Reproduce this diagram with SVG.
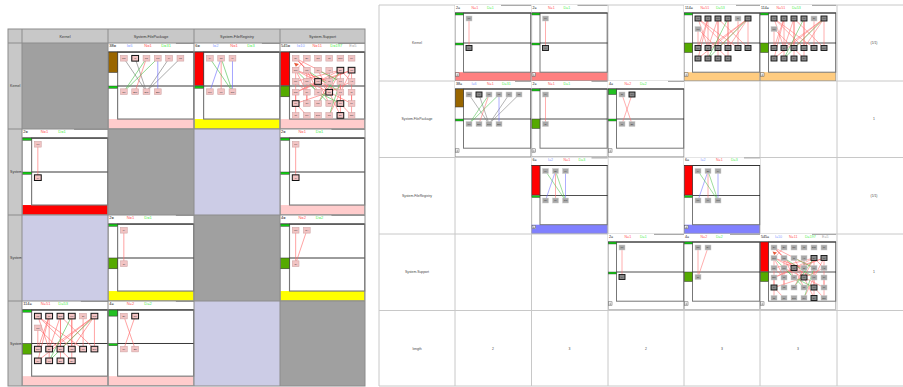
<svg xmlns="http://www.w3.org/2000/svg" width="903" height="387" viewBox="0 0 903 387">
<style>
text{font-family:"Liberation Sans",Arial,sans-serif}
.hd{font-size:3.8px;fill:#333;text-anchor:middle}
.rl{font-size:3.6px;fill:#333}
.rt{font-size:3.4px;fill:#444;text-anchor:middle}
.t{font-size:3.6px}
.k{fill:#111}.i{fill:#8aa0ff}.nn{fill:#ff5a5a}.d{fill:#50f050}.e{fill:#a8a8a8}
.nl{font-size:2.2px;fill:#333;text-anchor:middle}
.n{fill:var(--nf);stroke:var(--ns);stroke-width:0.5}
.h{fill:var(--hf);stroke:#111;stroke-width:0.9}
.er,.eg,.eb,.ex{fill:none;stroke-width:0.55}
.er{stroke:#ff6a6a}.eg{stroke:#4cc04c}.eb{stroke:#6a6aff}.ex{stroke:#777}
.L{--nf:#f2c4c4;--ns:#cda4a4;--hf:#f2c4c4;--io:0}
.R{--nf:#a8a8a8;--ns:#cfcfcf;--hf:#888;--io:1}
.ft{fill:var(--ff,#fff)}
.ic{opacity:var(--io,1)}
.gl{stroke:#c8c8c8;stroke-width:1;fill:none}
.lg{stroke:#8c8c8c;stroke-width:1;fill:none}
</style>
<defs>
<clipPath id="rc"><rect x="8" y="43" width="14" height="343"/></clipPath>
<g id="fr">
<rect x="0" y="0" width="76" height="76" fill="#fff"/>
<rect class="ft" x="0" y="67.2" width="76" height="8.8"/>
<rect x="0.3" y="8" width="75.4" height="67.7" fill="none" stroke="#999" stroke-width="0.6"/>
<rect x="8.5" y="8" width="67.2" height="59.2" fill="none" stroke="#777" stroke-width="1"/>
<line x1="0" y1="8" x2="76" y2="8" stroke="#222" stroke-width="0.8"/>
<line x1="8.5" y1="38" x2="76" y2="38" stroke="#222" stroke-width="0.8"/>
<g class="ic"><rect x="0.6" y="67.8" width="3.4" height="3.4" fill="#fff" stroke="#555" stroke-width="0.5"/><path d="M1.3 70.2h2M2.3 68.6v2.2" stroke="#555" stroke-width="0.4"/></g>
</g>
<rect id="gb" x="0.4" y="8" width="8" height="2" fill="#1c1" stroke="#333" stroke-width="0.4"/>
<rect id="gm" x="0.4" y="38" width="8" height="2" fill="#1c1" stroke="#333" stroke-width="0.4"/>
<rect id="gk" x="0.4" y="38" width="8" height="9.5" fill="#55aa00" stroke="#333" stroke-width="0.5"/>

<g id="c2a">
<use href="#fr"/>
<line x1="46" y1="0.4" x2="76" y2="0.4" stroke="#888" stroke-width="0.8"/>
<use href="#gb"/><use href="#gm"/>
<text class="t" y="3.9"><tspan x="1" class="k">2=</tspan><tspan x="16.5" class="nn">N=1</tspan><tspan x="32" class="d">D=1</tspan></text>
<g class="edges"><line class="er" x1="14" y1="13.5" x2="14" y2="43"/></g>
<rect class="n" x="11" y="11" width="6" height="5"/><text class="nl" x="14" y="14.3">Fu</text>
<rect class="h" x="11" y="40.5" width="6" height="5"/><text class="nl" x="14" y="43.8">Fi</text>
</g>

<g id="c2b">
<use href="#fr"/>
<line x1="60" y1="0.4" x2="76" y2="0.4" stroke="#888" stroke-width="0.8"/>
<use href="#gb"/><use href="#gk"/>
<text class="t" y="3.9"><tspan x="1" class="k">2=</tspan><tspan x="16.5" class="nn">N=1</tspan><tspan x="32" class="d">D=1</tspan></text>
<g class="edges"><line class="er" x1="14" y1="13.5" x2="14" y2="43"/></g>
<rect class="n" x="11" y="11" width="6" height="5"/><text class="nl" x="14" y="14.3">Fi</text>
<rect class="n" x="11" y="40.5" width="6" height="5"/><text class="nl" x="14" y="43.8">Sl</text>
</g>

<g id="c4a">
<use href="#fr"/>
<line x1="46" y1="0.4" x2="76" y2="0.4" stroke="#888" stroke-width="0.8"/>
<use href="#gb"/><use href="#gk"/>
<text class="t" y="3.9"><tspan x="1" class="k">4=</tspan><tspan x="16.5" class="nn">N=2</tspan><tspan x="32" class="d">D=2</tspan></text>
<g class="edges"><line class="er" x1="14" y1="13.5" x2="14" y2="43"/><line class="er" x1="24" y1="13.5" x2="14" y2="43"/></g>
<rect class="n" x="11" y="11" width="6" height="5"/><text class="nl" x="14" y="14.3">Mu</text>
<rect class="n" x="21" y="11" width="6" height="5"/><text class="nl" x="24" y="14.3">SA</text>
<rect class="n" x="11" y="40.5" width="6" height="5"/><text class="nl" x="14" y="43.8">Sl</text>
</g>

<g id="c4b">
<use href="#fr"/>
<line x1="60" y1="0.4" x2="76" y2="0.4" stroke="#888" stroke-width="0.8"/>
<rect x="0.4" y="8" width="8" height="5.5" fill="#22c022" stroke="#333" stroke-width="0.5"/><use href="#gm"/>
<text class="t" y="3.9"><tspan x="1" class="k">4=</tspan><tspan x="16.5" class="nn">N=2</tspan><tspan x="32" class="d">D=2</tspan></text>
<g class="edges"><line class="er" x1="14" y1="13.5" x2="24" y2="43"/><line class="er" x1="24" y1="13.5" x2="14" y2="43"/></g>
<rect class="n" x="11" y="11" width="6" height="5"/><text class="nl" x="14" y="14.3">Er</text>
<rect class="h" x="21" y="11" width="6" height="5"/><text class="nl" x="24" y="14.3">Cn</text>
<rect class="n" x="11" y="40.5" width="6" height="5"/><text class="nl" x="14" y="43.8">Pr</text>
<rect class="n" x="21" y="40.5" width="6" height="5"/><text class="nl" x="24" y="43.8">En</text>
</g>

<g id="c6">
<use href="#fr"/>
<line x1="60" y1="0.4" x2="76" y2="0.4" stroke="#888" stroke-width="0.8"/>
<rect x="0.4" y="8" width="8" height="29.5" fill="#f00" stroke="#333" stroke-width="0.5"/><use href="#gm"/>
<text class="t" y="3.9"><tspan x="1" class="k">6=</tspan><tspan x="16.5" class="i">I=2</tspan><tspan x="32" class="nn">N=1</tspan><tspan x="47" class="d">D=3</tspan></text>
<g class="edges">
<line class="eb" x1="14" y1="43" x2="24" y2="13.5"/>
<line class="er" x1="24" y1="13.5" x2="24" y2="43"/>
<line class="eg" x1="14" y1="13.5" x2="34" y2="43"/>
<line class="eg" x1="24" y1="13.5" x2="34" y2="43"/>
<line class="eb" x1="34" y1="13.5" x2="34" y2="43"/>
</g>
<rect class="n" x="11" y="11" width="6" height="5"/><text class="nl" x="14" y="14.3">Fi</text>
<rect class="n" x="21" y="11" width="6" height="5"/><text class="nl" x="24" y="14.3">Su</text>
<rect class="n" x="31" y="11" width="6" height="5"/><text class="nl" x="34" y="14.3">Fi</text>
<rect class="n" x="11" y="40.5" width="6" height="5"/><text class="nl" x="14" y="43.8">Mo</text>
<rect class="n" x="21" y="40.5" width="6" height="5"/><text class="nl" x="24" y="43.8">Ke</text>
<rect class="n" x="31" y="40.5" width="6" height="5"/><text class="nl" x="34" y="43.8">Cm</text>
</g>

<g id="c38">
<use href="#fr"/>
<line x1="60" y1="0.4" x2="76" y2="0.4" stroke="#888" stroke-width="0.8"/>
<rect x="0.4" y="8" width="8" height="18" fill="#996600" stroke="#333" stroke-width="0.5"/><use href="#gm"/>
<text class="t" y="3.9"><tspan x="1" class="k">38=</tspan><tspan x="16.5" class="i">I=6</tspan><tspan x="32" class="nn">N=1</tspan><tspan x="47" class="d">D=31</tspan></text>
<g class="edges">
<line class="ex" x1="14" y1="13.5" x2="34" y2="43"/>
<line class="ex" x1="24" y1="13.5" x2="34" y2="43"/>
<line class="ex" x1="54" y1="13.5" x2="34" y2="43"/>
<line class="ex" x1="64" y1="13.5" x2="34" y2="43"/>
<line class="er" x1="34" y1="13.5" x2="24" y2="43"/>
<line class="eg" x1="34" y1="13.5" x2="14" y2="43"/>
<line class="eg" x1="44" y1="13.5" x2="14" y2="43"/>
<line class="eb" x1="44" y1="13.5" x2="44" y2="43"/>
</g>
<rect class="n" x="11" y="11" width="6" height="5"/><text class="nl" x="14" y="14.3">Tm</text>
<rect class="h" x="21" y="11" width="6" height="5"/><text class="nl" x="24" y="14.3">In</text>
<rect class="n" x="31" y="11" width="6" height="5"/><text class="nl" x="34" y="14.3">Pa</text>
<rect class="n" x="41" y="11" width="6" height="5"/><text class="nl" x="44" y="14.3">Pa</text>
<rect class="n" x="51" y="11" width="6" height="5"/><text class="nl" x="54" y="14.3">Fi</text>
<rect class="n" x="61" y="11" width="6" height="5"/><text class="nl" x="64" y="14.3">Tg</text>
<rect class="n" x="11" y="40.5" width="6" height="5"/><text class="nl" x="14" y="43.8">Cn</text>
<rect class="n" x="21" y="40.5" width="6" height="5"/><text class="nl" x="24" y="43.8">Bm</text>
<rect class="n" x="31" y="40.5" width="6" height="5"/><text class="nl" x="34" y="43.8">Dm</text>
<rect class="n" x="41" y="40.5" width="6" height="5"/><text class="nl" x="44" y="43.8">Bm</text>
</g>

<g id="c114">
<use href="#fr"/>
<line x1="52" y1="0.4" x2="76" y2="0.4" stroke="#888" stroke-width="0.8"/>
<use href="#gb"/><use href="#gk"/>
<text class="t" y="3.9"><tspan x="1" class="k">114=</tspan><tspan x="16.5" class="nn">N=51</tspan><tspan x="32" class="d">D=53</tspan></text>
<g class="edges">
<line class="er" x1="14" y1="13.5" x2="24" y2="43"/>
<line class="er" x1="14" y1="13.5" x2="44" y2="43"/>
<line class="er" x1="14" y1="13.5" x2="54" y2="43"/>
<line class="er" x1="24" y1="13.5" x2="14" y2="43"/>
<line class="er" x1="24" y1="13.5" x2="24" y2="53.5"/>
<line class="er" x1="24" y1="13.5" x2="14" y2="53.5"/>
<line class="er" x1="34" y1="13.5" x2="24" y2="43"/>
<line class="er" x1="34" y1="13.5" x2="34" y2="43"/>
<line class="er" x1="34" y1="13.5" x2="34" y2="53.5"/>
<line class="er" x1="34" y1="13.5" x2="64" y2="43"/>
<line class="er" x1="44" y1="13.5" x2="44" y2="43"/>
<line class="er" x1="44" y1="13.5" x2="44" y2="53.5"/>
<line class="er" x1="54" y1="13.5" x2="54" y2="43"/>
<line class="er" x1="64" y1="13.5" x2="64" y2="43"/>
<line class="er" x1="64" y1="13.5" x2="34" y2="43"/>
<line class="er" x1="64" y1="13.5" x2="14" y2="53.5"/>
<line class="er" x1="64" y1="13.5" x2="44" y2="43"/>
<line class="er" x1="64" y1="13.5" x2="24" y2="43"/>
<line class="er" x1="14" y1="24" x2="14" y2="43"/>
<line class="er" x1="14" y1="24" x2="44" y2="53.5"/>
<line class="eg" x1="44" y1="13.5" x2="24" y2="53.5"/>
<line class="eg" x1="64" y1="13.5" x2="24" y2="53.5"/>
</g>
<rect class="h" x="11" y="11" width="6" height="5"/><text class="nl" x="14" y="14.3">Ks</text>
<rect class="h" x="21" y="11" width="6" height="5"/><text class="nl" x="24" y="14.3">Pr</text>
<rect class="h" x="31" y="11" width="6" height="5"/><text class="nl" x="34" y="14.3">Sm</text>
<rect class="h" x="41" y="11" width="6" height="5"/><text class="nl" x="44" y="14.3">Pa</text>
<rect class="n" x="51" y="11" width="6" height="5"/><text class="nl" x="54" y="14.3">Sl</text>
<rect class="h" x="61" y="11" width="6" height="5"/><text class="nl" x="64" y="14.3">Tm</text>
<rect class="n" x="11" y="21.5" width="6" height="5"/><text class="nl" x="14" y="24.8">Un</text>
<rect class="h" x="11" y="40.5" width="6" height="5"/><text class="nl" x="14" y="43.8">Sm</text>
<rect class="h" x="21" y="40.5" width="6" height="5"/><text class="nl" x="24" y="43.8">Bt</text>
<rect class="h" x="31" y="40.5" width="6" height="5"/><text class="nl" x="34" y="43.8">Ex</text>
<rect class="h" x="41" y="40.5" width="6" height="5"/><text class="nl" x="44" y="43.8">Ch</text>
<rect class="h" x="51" y="40.5" width="6" height="5"/><text class="nl" x="54" y="43.8">Ld</text>
<rect class="h" x="61" y="40.5" width="6" height="5"/><text class="nl" x="64" y="43.8">Sm</text>
<rect class="h" x="11" y="51" width="6" height="5"/><text class="nl" x="14" y="54.3">Pr</text>
<rect class="h" x="21" y="51" width="6" height="5"/><text class="nl" x="24" y="54.3">Ln</text>
<rect class="h" x="31" y="51" width="6" height="5"/><text class="nl" x="34" y="54.3">Ex</text>
<rect class="h" x="41" y="51" width="6" height="5"/><text class="nl" x="44" y="54.3">Ex</text>
</g>

<g id="c545">
<use href="#fr"/>
<line x1="52" y1="0.4" x2="76" y2="0.4" stroke="#888" stroke-width="0.8"/>
<rect x="0.4" y="8" width="8" height="29.5" fill="#f00" stroke="#333" stroke-width="0.5"/><use href="#gk"/>
<text class="t" y="3.9"><tspan x="1" class="k">545=</tspan><tspan x="15" class="i">I=10</tspan><tspan x="29" class="nn">N=11</tspan><tspan x="45" class="d">D=197</tspan><tspan x="62" class="e">E=5</tspan></text>
<g class="edges">
<line class="er" x1="14" y1="13.5" x2="34" y2="34"/>
<line class="er" x1="14" y1="13.5" x2="44" y2="43.5"/>
<line class="er" x1="14" y1="13.5" x2="54" y2="34"/>
<line class="er" x1="14" y1="24" x2="34" y2="34"/>
<line class="er" x1="14" y1="24" x2="24" y2="43.5"/>
<line class="er" x1="14" y1="24" x2="14" y2="53.5"/>
<line class="er" x1="14" y1="24" x2="44" y2="34"/>
<line class="er" x1="24" y1="24" x2="34" y2="43.5"/>
<line class="er" x1="24" y1="24" x2="24" y2="53.5"/>
<line class="er" x1="34" y1="24" x2="44" y2="43.5"/>
<line class="er" x1="54" y1="24" x2="34" y2="34"/>
<line class="er" x1="54" y1="24" x2="44" y2="43.5"/>
<line class="er" x1="54" y1="24" x2="54" y2="53.5"/>
<line class="er" x1="54" y1="24" x2="14" y2="34"/>
<line class="er" x1="64" y1="24" x2="34" y2="34"/>
<line class="er" x1="64" y1="24" x2="54" y2="43.5"/>
<line class="er" x1="64" y1="24" x2="64" y2="53.5"/>
<line class="er" x1="64" y1="24" x2="14" y2="43.5"/>
<line class="er" x1="14" y1="34" x2="24" y2="43.5"/>
<line class="er" x1="24" y1="34" x2="44" y2="43.5"/>
<line class="er" x1="34" y1="34" x2="54" y2="43.5"/>
<line class="er" x1="34" y1="34" x2="44" y2="53.5"/>
<line class="er" x1="34" y1="34" x2="14" y2="43.5"/>
<line class="er" x1="44" y1="34" x2="34" y2="53.5"/>
<line class="er" x1="54" y1="34" x2="54" y2="53.5"/>
<line class="er" x1="64" y1="34" x2="44" y2="43.5"/>
<line class="er" x1="14" y1="43.5" x2="14" y2="64"/>
<line class="er" x1="24" y1="43.5" x2="24" y2="53.5"/>
<line class="er" x1="44" y1="43.5" x2="54" y2="64"/>
<line class="er" x1="54" y1="43.5" x2="44" y2="64"/>
<line class="er" x1="64" y1="43.5" x2="64" y2="64"/>
<line class="er" x1="14" y1="53.5" x2="24" y2="64"/>
<line class="er" x1="54" y1="53.5" x2="54" y2="64"/>
<line class="er" x1="44" y1="43.5" x2="14" y2="53.5"/>
<line class="er" x1="14" y1="13.5" x2="24" y2="24"/>
<line class="er" x1="24" y1="13.5" x2="14" y2="24"/>
<line class="er" x1="54" y1="53.5" x2="64" y2="64"/>
<line class="er" x1="44" y1="43.5" x2="64" y2="53.5"/>
<line class="er" x1="54" y1="24" x2="64" y2="34"/>
<line class="eg" x1="14" y1="24" x2="34" y2="43.5"/>
<line class="eg" x1="24" y1="34" x2="44" y2="53.5"/>
<line class="eg" x1="24" y1="24" x2="54" y2="43.5"/>
<line class="eg" x1="54" y1="34" x2="44" y2="64"/>
<line class="eg" x1="34" y1="43.5" x2="54" y2="53.5"/>
<line class="eg" x1="54" y1="24" x2="34" y2="53.5"/>
<line class="eg" x1="34" y1="24" x2="54" y2="34"/>
<line class="ex" x1="44" y1="24" x2="44" y2="34"/>
<polygon points="12.5,17.5 17,18.6 14.2,21" fill="#e65a3a"/>
</g>
<rect class="n" x="11" y="11" width="6" height="5"/><text class="nl" x="14" y="14.3">Sy</text>
<rect class="n" x="21" y="11" width="6" height="5"/><text class="nl" x="24" y="14.3">Ex</text>
<rect class="n" x="31" y="11" width="6" height="5"/><text class="nl" x="34" y="14.3">RT</text>
<rect class="n" x="41" y="11" width="6" height="5"/><text class="nl" x="44" y="14.3">Ct</text>
<rect class="n" x="51" y="11" width="6" height="5"/><text class="nl" x="54" y="14.3">Dsc</text>
<rect class="n" x="61" y="11" width="6" height="5"/><text class="nl" x="64" y="14.3">Pr</text>
<rect class="n" x="11" y="21.5" width="6" height="5"/><text class="nl" x="14" y="24.8">Col</text>
<rect class="n" x="21" y="21.5" width="6" height="5"/><text class="nl" x="24" y="24.8">Wk</text>
<rect class="n" x="31" y="21.5" width="6" height="5"/><text class="nl" x="34" y="24.8">Pr</text>
<rect class="n" x="41" y="21.5" width="6" height="5"/><text class="nl" x="44" y="24.8">Au</text>
<rect class="h" x="51" y="21.5" width="6" height="5"/><text class="nl" x="54" y="24.8">Ex</text>
<rect class="h" x="61" y="21.5" width="6" height="5"/><text class="nl" x="64" y="24.8">Tn</text>
<rect class="n" x="11" y="31.5" width="6" height="5"/><text class="nl" x="14" y="34.8">Mc</text>
<rect class="n" x="21" y="31.5" width="6" height="5"/><text class="nl" x="24" y="34.8">Un</text>
<rect class="h" x="31" y="31.5" width="6" height="5"/><text class="nl" x="34" y="34.8">Fa</text>
<rect class="n" x="41" y="31.5" width="6" height="5"/><text class="nl" x="44" y="34.8">St</text>
<rect class="n" x="51" y="31.5" width="6" height="5"/><text class="nl" x="54" y="34.8">Fu</text>
<rect class="n" x="61" y="31.5" width="6" height="5"/><text class="nl" x="64" y="34.8">Ab</text>
<rect class="n" x="11" y="41" width="6" height="5"/><text class="nl" x="14" y="44.3">Sm</text>
<rect class="n" x="21" y="41" width="6" height="5"/><text class="nl" x="24" y="44.3">Pr</text>
<rect class="n" x="31" y="41" width="6" height="5"/><text class="nl" x="34" y="44.3">In</text>
<rect class="h" x="41" y="41" width="6" height="5"/><text class="nl" x="44" y="44.3">Pa</text>
<rect class="n" x="51" y="41" width="6" height="5"/><text class="nl" x="54" y="44.3">Ls</text>
<rect class="n" x="61" y="41" width="6" height="5"/><text class="nl" x="64" y="44.3">Pi</text>
<rect class="h" x="11" y="51" width="6" height="5"/><text class="nl" x="14" y="54.3">Tx</text>
<rect class="n" x="21" y="51" width="6" height="5"/><text class="nl" x="24" y="54.3">Ct</text>
<rect class="n" x="31" y="51" width="6" height="5"/><text class="nl" x="34" y="54.3">Mo</text>
<rect class="n" x="41" y="51" width="6" height="5"/><text class="nl" x="44" y="54.3">Th</text>
<rect class="h" x="51" y="51" width="6" height="5"/><text class="nl" x="54" y="54.3">Ps</text>
<rect class="n" x="61" y="51" width="6" height="5"/><text class="nl" x="64" y="54.3">Pr</text>
<rect class="n" x="11" y="61.5" width="6" height="5"/><text class="nl" x="14" y="64.8">St</text>
<rect class="n" x="21" y="61.5" width="6" height="5"/><text class="nl" x="24" y="64.8">Pu</text>
<rect class="n" x="31" y="61.5" width="6" height="5"/><text class="nl" x="34" y="64.8">Dm</text>
<rect class="n" x="41" y="61.5" width="6" height="5"/><text class="nl" x="44" y="64.8">Co</text>
<rect class="h" x="51" y="61.5" width="6" height="5"/><text class="nl" x="54" y="64.8">Ex</text>
<rect class="n" x="61" y="61.5" width="6" height="5"/><text class="nl" x="64" y="64.8">Sm</text>
</g>
</defs>

<rect x="0" y="0" width="903" height="387" fill="#fff"/>

<!-- LEFT MATRIX -->
<g id="left-matrix">
<rect x="8" y="29" width="357" height="357" fill="#fff"/>
<rect x="8" y="29" width="357" height="14" fill="#c8c8c8"/>
<rect x="8" y="43" width="14" height="343" fill="#c8c8c8"/>
<g id="l-empty">
<rect x="22" y="43" width="86" height="86" fill="#a0a0a0"/>
<rect x="108" y="129" width="86" height="86" fill="#a0a0a0"/>
<rect x="194" y="215" width="86" height="86" fill="#a0a0a0"/>
<rect x="280" y="301" width="85" height="85" fill="#a0a0a0"/>
<rect x="194" y="129" width="86" height="86" fill="#cccce6"/>
<rect x="22" y="215" width="86" height="86" fill="#cccce6"/>
<rect x="194" y="301" width="86" height="85" fill="#cccce6"/>
</g>
<text class="hd" x="65" y="37.5">Kernel</text>
<text class="hd" x="151" y="37.5">System.FilePackage</text>
<text class="hd" x="237" y="37.5">System.FileRegistry</text>
<text class="hd" x="322.5" y="37.5">System.Support</text>
<g clip-path="url(#rc)">
<text class="rl" x="10" y="87">Kernel</text>
<text class="rl" x="10" y="173">System.FilePackage</text>
<text class="rl" x="10" y="259">System.FileRegistry</text>
<text class="rl" x="10" y="345">System.Support</text>
</g>
<g id="L-K-FP"><use href="#c38" class="L" style="--ff:#ffcccc" transform="translate(108,43) scale(1.1316)"/></g>
<g id="L-K-FR"><use href="#c6" class="L" style="--ff:#ffff00" transform="translate(194,43) scale(1.1316)"/></g>
<g id="L-K-SU"><use href="#c545" class="L" style="--ff:#ffcccc" transform="translate(280,43) scale(1.1184,1.1316)"/></g>
<g id="L-FP-K"><use href="#c2a" class="L" style="--ff:#ff0000" transform="translate(22,129) scale(1.1316)"/></g>
<g id="L-FP-SU"><use href="#c2a" class="L" style="--ff:#ffcccc" transform="translate(280,129) scale(1.1184,1.1316)"/></g>
<g id="L-FR-FP"><use href="#c2b" class="L" style="--ff:#ffff00" transform="translate(108,215) scale(1.1316)"/></g>
<g id="L-FR-SU"><use href="#c4a" class="L" style="--ff:#ffff00" transform="translate(280,215) scale(1.1184,1.1316)"/></g>
<g id="L-SU-K"><use href="#c114" class="L" style="--ff:#ffcccc" transform="translate(22,301) scale(1.1316,1.1184)"/></g>
<g id="L-SU-FP"><use href="#c4b" class="L" style="--ff:#ffcccc" transform="translate(108,301) scale(1.1316,1.1184)"/></g>
<g class="lg">
<rect x="8" y="29" width="357" height="357"/>
<path d="M22 29V386M108 29V386M194 29V386M280 29V386M8 43H365M8 129H365M8 215H365M8 301H365"/>
</g>
</g>

<!-- RIGHT MATRIX -->
<g id="right-matrix">
<g class="gl">
<path d="M379 5H903M379 81H903M379 157.5H903M379 234H903M379 310.5H903M379 386H903"/>
<path d="M379 5V386M455 5V386M531.5 5V386M608 5V386M684 5V386M760 5V386M837 5V386"/>
</g>
<text class="rt" x="417" y="44">Kernel</text>
<text class="rt" x="417" y="120">System.FilePackage</text>
<text class="rt" x="417" y="197">System.FileRegistry</text>
<text class="rt" x="417" y="273">System.Support</text>
<text class="rt" x="417" y="349.5">length</text>
<text class="rt" x="874" y="44">(1/1)</text>
<text class="rt" x="874" y="120">1</text>
<text class="rt" x="874" y="197">(1/1)</text>
<text class="rt" x="874" y="273">1</text>
<text class="rt" x="493" y="349.5">2</text>
<text class="rt" x="569.5" y="349.5">3</text>
<text class="rt" x="646" y="349.5">2</text>
<text class="rt" x="722" y="349.5">3</text>
<text class="rt" x="798" y="349.5">3</text>
<g id="R-K-1"><use href="#c2a" class="R" style="--ff:#ff8080" transform="translate(455,5)"/></g>
<g id="R-K-2"><use href="#c2a" class="R" style="--ff:#ff8080" transform="translate(531.5,5)"/></g>
<g id="R-K-4"><use href="#c114" class="R" style="--ff:#ffcc80" transform="translate(684,5)"/></g>
<g id="R-K-5"><use href="#c114" class="R" style="--ff:#ffcc80" transform="translate(760,5)"/></g>
<g id="R-FP-1"><use href="#c38" class="R" style="--ff:#ffffff" transform="translate(455,81)"/></g>
<g id="R-FP-2"><use href="#c2b" class="R" style="--ff:#ffffff" transform="translate(531.5,81)"/></g>
<g id="R-FP-3"><use href="#c4b" class="R" style="--ff:#ffffff" transform="translate(608,81)"/></g>
<g id="R-FR-2"><use href="#c6" class="R" style="--ff:#8080ff" transform="translate(531.5,157.5)"/></g>
<g id="R-FR-4"><use href="#c6" class="R" style="--ff:#8080ff" transform="translate(684,157.5)"/></g>
<g id="R-SU-3"><use href="#c2a" class="R" style="--ff:#ffffff" transform="translate(608,234)"/></g>
<g id="R-SU-4"><use href="#c4a" class="R" style="--ff:#ffffff" transform="translate(684,234)"/></g>
<g id="R-SU-5"><use href="#c545" class="R" style="--ff:#ffffff" transform="translate(760,234)"/></g>
</g>
</svg>
